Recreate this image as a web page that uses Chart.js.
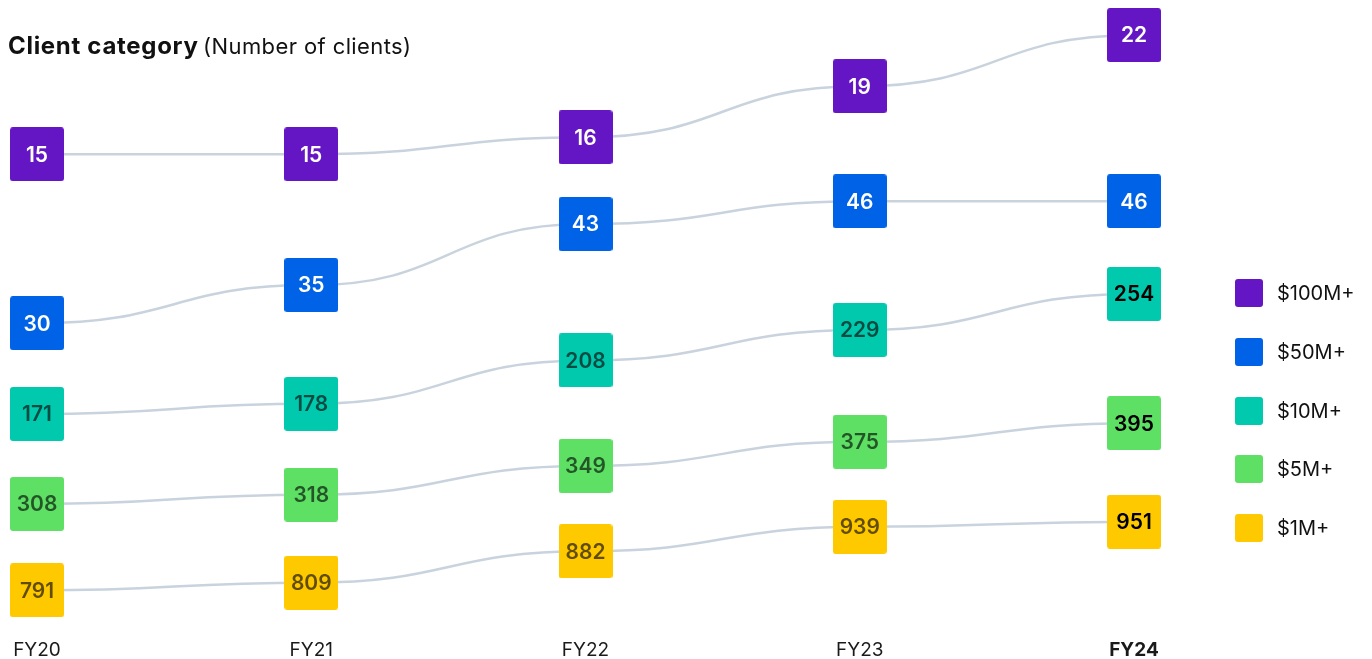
<!DOCTYPE html>
<html>
<head>
<meta charset="utf-8">
<script src="https://cdn.jsdelivr.net/npm/chart.js@4.4.1/dist/chart.umd.min.js"></script>
<style>
  html, body { margin: 0; padding: 0; background: #fff; }
  #wrap { position: relative; width: 1372px; height: 659px; font-family: Inter, "Noto Sans", sans-serif; }
  #title { position: absolute; left: 8px; top: 31px; line-height: 30px; color: #111; white-space: nowrap; }
  #title b { font-size: 24px; font-weight: 700; letter-spacing: 0.7px; }
  #title span { font-size: 22px; font-weight: 400; letter-spacing: 0.4px; }
  #legend { position: absolute; left: 1235px; top: 279px; }
  .li { display: flex; align-items: center; height: 28px; margin-bottom: 30.75px; font-size: 20px; color: #111; }
  .sw { width: 28px; height: 28px; border-radius: 3px; margin-right: 14px; }
  canvas#c { position: absolute; left: 0; top: 0; }
</style>
</head>
<body>
<div id="wrap">
  <canvas id="c" width="1372" height="659"></canvas>
  <div id="title"><b>Client category</b> <span>(Number of clients)</span></div>
  <div id="legend"></div>
</div>
<script>
const categories = ['FY20', 'FY21', 'FY22', 'FY23', 'FY24'];
const seriesNames = ['$100M+', '$50M+', '$10M+', '$5M+', '$1M+'];
const clients100M = [15, 15, 16, 19, 22];
const clients50M = [30, 35, 43, 46, 46];
const clients10M = [171, 178, 208, 229, 254];
const clients5M = [308, 318, 349, 375, 395];
const clients1M = [791, 809, 882, 939, 951];

const seriesValues = [clients100M, clients50M, clients10M, clients5M, clients1M];
const colors = ['#6416C4', '#0062E6', '#00C9AE', '#5EE065', '#FFC900'];
const textColors = ['#ffffff', '#ffffff', 'dark', 'dark', 'dark'];
const axisIds = ['y100', 'y50', 'y10', 'y5', 'y1'];

function boxImage(color) {
  const size = 54, r = 3;
  const cv = document.createElement('canvas');
  cv.width = size; cv.height = size;
  const g = cv.getContext('2d');
  g.fillStyle = color;
  g.beginPath();
  g.moveTo(r, 0); g.lineTo(size - r, 0); g.quadraticCurveTo(size, 0, size, r);
  g.lineTo(size, size - r); g.quadraticCurveTo(size, size, size - r, size);
  g.lineTo(r, size); g.quadraticCurveTo(0, size, 0, size - r);
  g.lineTo(0, r); g.quadraticCurveTo(0, 0, r, 0);
  g.closePath(); g.fill();
  return cv;
}

// legend
const legendEl = document.getElementById('legend');
seriesNames.forEach((n, i) => {
  const d = document.createElement('div'); d.className = 'li';
  d.innerHTML = '<div class="sw" style="background:' + colors[i] + '"></div><div>' + n + '</div>';
  legendEl.appendChild(d);
});

const bumpPlugin = {
  id: 'bump',
  beforeDatasetDraw(chart, args) {
    const meta = args.meta;
    const line = meta.dataset;
    const pts = meta.data;
    line.updateControlPoints(chart.chartArea, 'x');
    for (let i = 0; i < pts.length; i++) {
      const p = pts[i];
      if (i > 0) { const dx = (p.x - pts[i - 1].x) * 0.5; p.cp1x = p.x - dx; p.cp1y = p.y; }
      if (i < pts.length - 1) { const dx = (pts[i + 1].x - p.x) * 0.5; p.cp2x = p.x + dx; p.cp2y = p.y; }
    }
    line._path = undefined;
  }
};

const labelPlugin = {
  id: 'boxLabels',
  afterDatasetsDraw(chart) {
    const ctx = chart.ctx;
    ctx.save();
    ctx.textAlign = 'center';
    ctx.textBaseline = 'middle';
    chart.data.datasets.forEach((ds, di) => {
      const meta = chart.getDatasetMeta(di);
      meta.data.forEach((pt, i) => {
        const last = i === meta.data.length - 1;
        let col = textColors[di];
        if (col === 'dark') col = last ? '#000000' : 'rgba(0,0,0,0.62)';
        ctx.fillStyle = col;
        ctx.font = '600 21px Inter, "Noto Sans", sans-serif';
        ctx.fillText(String(ds.data[i]), pt.x, pt.y + 1);
      });
    });
    ctx.restore();
  }
};

const datasets = seriesNames.map((n, i) => ({
  label: n,
  data: seriesValues[i],
  yAxisID: axisIds[i],
  borderColor: '#C9D3DE',
  borderWidth: 2.5,
  tension: 0.4,
  pointStyle: boxImage(colors[i]),
  pointRadius: 27,
  pointHoverRadius: 27,
  pointBorderWidth: 0,
  clip: false,
  fill: false
}));

const hiddenAxis = (min, max) => ({ type: 'linear', display: false, min: min, max: max });

new Chart(document.getElementById('c'), {
  type: 'line',
  data: { labels: categories, datasets: datasets },
  options: {
    responsive: false,
    animation: false,
    events: [],
    layout: { autoPadding: false, padding: { left: 37, right: 238, top: 19, bottom: 0 } },
    plugins: { legend: { display: false }, tooltip: { enabled: false }, title: { display: false } },
    scales: {
      x: {
        type: 'category',
        offset: false,
        grid: { display: false, drawTicks: false },
        border: { display: false },
        afterFit: (scale) => { scale.height = 38; scale.paddingLeft = 0; scale.paddingRight = 0; },
        ticks: {
          padding: 18,
          color: '#1a1a1a',
          font: (c) => ({ family: 'Inter, "Noto Sans", sans-serif', size: 19, weight: c.index === 4 ? '700' : '400' })
        }
      },
      y100: hiddenAxis(-12.43, 22.95),
      y50: hiddenAxis(-9.05, 69.9),
      y10: hiddenAxis(27.9, 444.0),
      y5: hiddenAxis(181.7, 831.1),
      y1: hiddenAxis(719.6, 2122.8)
    }
  },
  plugins: [bumpPlugin, labelPlugin]
});
</script>
</body>
</html>
